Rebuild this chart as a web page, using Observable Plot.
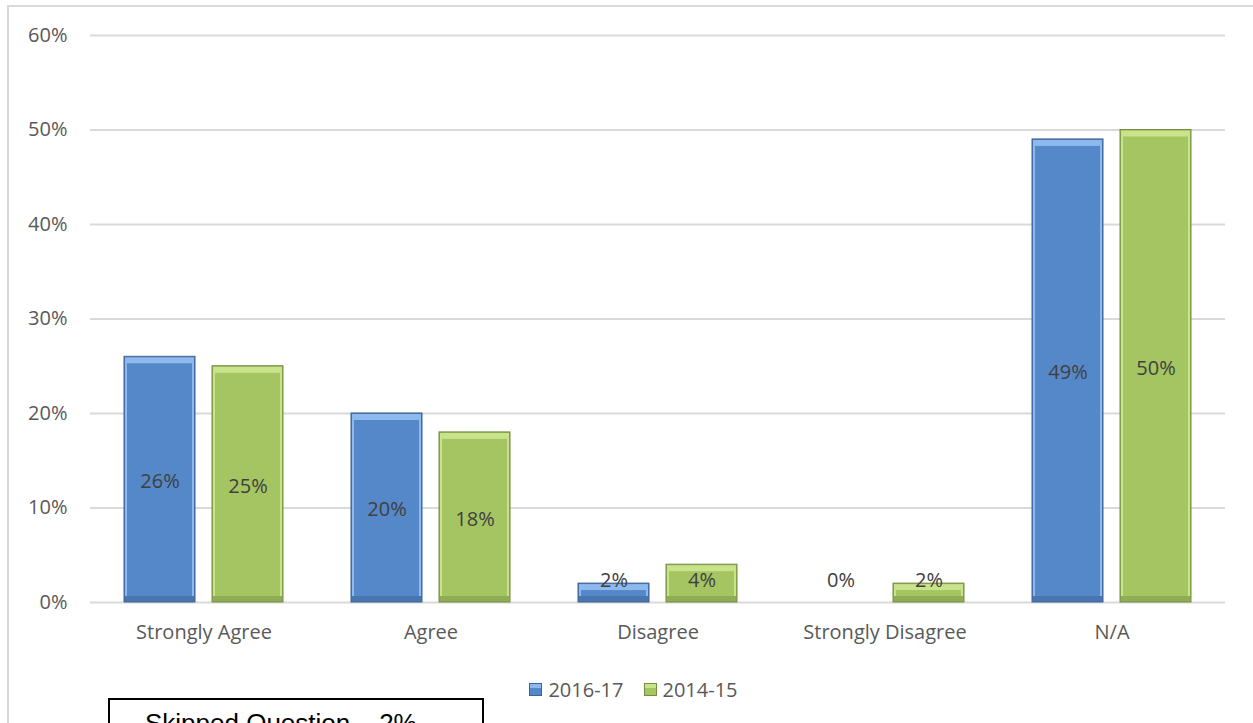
<!DOCTYPE html>
<html>
<head>
<meta charset="utf-8">
<script src="https://cdn.jsdelivr.net/npm/d3@7"></script>
<script src="https://cdn.jsdelivr.net/npm/@observablehq/plot@0.6"></script>
<style>
  html, body { margin: 0; padding: 0; background: #fff; }
  #wrap { position: relative; width: 1253px; height: 723px; overflow: hidden; font-family: "Open Sans", sans-serif; }
  #frame { position: absolute; left: 7px; top: 5px; width: 1300px; height: 800px; border: 2px solid #d9d9d9; box-sizing: border-box; }
  #chart { position: absolute; left: 0; top: 0; }
  #legend { position: absolute; top: 675px; left: 0; width: 1253px; text-align: center; font-size: 20px; color: #595959; padding-left: 14px; box-sizing: border-box; }
  #legend span.item { display: inline-flex; align-items: center; margin: 0 10px; }
  #legend span.sw { display: inline-block; width: 13px; height: 13px; margin-right: 6px; box-sizing: border-box; }
  #skip { position: absolute; left: 108px; top: 698px; width: 376px; height: 80px; border: 2px solid #000; box-sizing: border-box; font-family: "Liberation Sans", Arial, sans-serif; font-size: 26px; color: #000; padding-left: 35px; padding-top: 8px; }
</style>
</head>
<body>
<div id="wrap">
  <div id="frame"></div>
  <div id="chart"></div>
  <div id="legend"></div>
  <div id="skip">Skipped Question – 2%</div>
</div>
<script>
const categories = ["Strongly Agree", "Agree", "Disagree", "Strongly Disagree", "N/A"];
const series = ["2016-17", "2014-15"];
const values2016 = [26, 20, 2, 0, 49];
const values2014 = [25, 18, 4, 2, 50];
const yTicks = [0, 10, 20, 30, 40, 50, 60];

const mainColors = ["#5588C8", "#A5C563"];
const topColors = ["#8DB9EE", "#C8E389"];
const bottomColors = ["#4A76B0", "#8FAD55"];
const edgeColors = ["#3C6496", "#748D43"];

const data = [];
categories.forEach((c, i) => {
  data.push({category: c, series: series[0], value: values2016[i]});
  data.push({category: c, series: series[1], value: values2014[i]});
});
const barsData = data.filter(d => d.value > 0);

const plot = Plot.plot({
  width: 1253,
  height: 660,
  marginTop: 35,
  marginBottom: 58,
  marginLeft: 90,
  marginRight: 28,
  style: {fontFamily: "Open Sans, sans-serif", fontSize: "20px", color: "#595959", background: "transparent"},
  fx: {domain: categories, padding: 0, label: null, axis: null},
  x: {domain: series, paddingInner: 0.193, paddingOuter: 0.386, axis: null},
  y: {domain: [0, 60], axis: null},
  marks: [
    Plot.gridY(yTicks, {stroke: "#d9d9d9", strokeOpacity: 1, strokeWidth: 2}),
    Plot.axisY(yTicks, {tickSize: 0, tickPadding: 23, tickFormat: d => d + "%", label: null, fill: "#595959", fontSize: 20}),
    Plot.axisFx({anchor: "bottom", tickSize: 0, tickPadding: 22, label: null, fill: "#595959", fontSize: 20}),
    Plot.barY(barsData, {fx: "category", x: "series", y: "value",
      fill: d => bottomColors[series.indexOf(d.series)], stroke: d => edgeColors[series.indexOf(d.series)], strokeWidth: 1}),
    Plot.barY(barsData, {fx: "category", x: "series", y: "value", insetBottom: 6, insetLeft: 1, insetRight: 1, insetTop: 1,
      fill: d => topColors[series.indexOf(d.series)]}),
    Plot.barY(barsData, {fx: "category", x: "series", y: "value", insetTop: 7, insetBottom: 6, insetLeft: 3, insetRight: 3,
      fill: d => mainColors[series.indexOf(d.series)]}),
    Plot.text(data, {fx: "category", x: "series", y: d => Math.max(d.value / 2, 2.5), dy: 2,
      text: d => d.value + "%", fill: "#404040", fontSize: 20})
  ]
});
document.getElementById("chart").appendChild(plot);

const legend = document.getElementById("legend");
series.forEach((s, i) => {
  const item = document.createElement("span");
  item.className = "item";
  const sw = document.createElement("span");
  sw.className = "sw";
  sw.style.background = `linear-gradient(to bottom, ${topColors[i]} 0 35%, ${mainColors[i]} 35% 100%)`;
  sw.style.border = `1px solid ${edgeColors[i]}`;
  item.appendChild(sw);
  item.appendChild(document.createTextNode(s));
  legend.appendChild(item);
});
</script>
</body>
</html>
